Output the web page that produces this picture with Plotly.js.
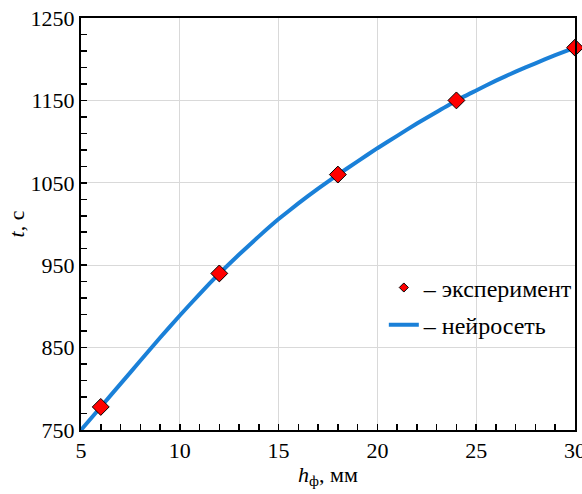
<!DOCTYPE html>
<html>
<head>
<meta charset="utf-8">
<script src="https://cdn.plot.ly/plotly-3.0.1.min.js"></script>
<style>
  html, body { margin: 0; padding: 0; background: #fff; }
  #chart { width: 582px; height: 494px; }
</style>
</head>
<body>
<div id="chart"></div>
<script>
// Measured filling times (experiment)
const expX = [6, 12, 18, 24, 30];
const expY = [778, 940, 1060, 1150, 1214];

// Neural-network prediction curve
const netX = [5, 6, 7, 8, 9, 10, 11, 12, 13, 14, 15, 16, 17, 18, 19, 20, 21, 22, 23, 24, 25, 26, 27, 28, 29, 30];
const netY = [750, 778, 806, 834, 862, 889, 915, 940, 963, 985, 1006, 1025, 1043, 1060, 1076, 1092, 1107, 1122, 1136, 1150, 1162, 1174, 1185, 1195, 1205, 1214];

const xTicks = [5, 10, 15, 20, 25, 30];
const yTicks = [750, 850, 950, 1050, 1150, 1250];

const seriesNames = ['– эксперимент', '– нейросеть'];

const font = 'Times New Roman';
const blue = '#1a80d8';

const traces = [
  {
    x: netX, y: netY, mode: 'lines', type: 'scatter',
    line: { color: blue, width: 4, shape: 'spline', smoothing: 0.3 },
    showlegend: false, hoverinfo: 'skip'
  },
  {
    x: expX, y: expY, mode: 'markers', type: 'scatter',
    marker: { symbol: 'diamond', size: 13, color: '#ff0000', line: { color: '#000', width: 1 } },
    cliponaxis: false, showlegend: false
  },
  // legend entries
  {
    x: [null], y: [null], mode: 'markers', type: 'scatter', name: seriesNames[0],
    marker: { symbol: 'diamond', size: 7, color: '#ff0000', line: { color: '#000', width: 1 } },
    legendgroup: 'a'
  },
  {
    x: [null], y: [null], mode: 'lines', type: 'scatter', name: seriesNames[1],
    line: { color: blue, width: 4 },
    legendgroup: 'b'
  }
];

const layout = {
  width: 582, height: 494,
  margin: { l: 81, r: 7, t: 18, b: 64, autoexpand: false },
  paper_bgcolor: '#fff', plot_bgcolor: '#fff',
  font: { family: font, size: 22, color: '#000' },
  showlegend: true,
  legend: {
    x: 0.613, y: 0.30, xanchor: 'left', yanchor: 'middle',
    bgcolor: 'rgba(255,255,255,0)', borderwidth: 0,
    font: { family: font, size: 24 },
    traceorder: 'grouped', tracegroupgap: 3
  },
  xaxis: {
    range: [5, 30.001], tickmode: 'array', tickvals: xTicks,
    ticklabeloverflow: 'allow', automargin: false,
    showline: true, linecolor: '#000', linewidth: 2, mirror: true,
    ticks: 'inside', ticklen: 6, tickwidth: 1.5, tickcolor: '#000',
    showgrid: true, gridcolor: '#d9d9d9', gridwidth: 1,
    zeroline: false,
    tickfont: { family: font, size: 22 },
    minor: { dtick: 1, tick0: 5, ticks: 'inside', ticklen: 6, tickwidth: 1.5, tickcolor: '#000', showgrid: false },
    title: { text: '<i>h</i><sub>ф</sub>, мм', font: { family: font, size: 22 }, standoff: 4 }
  },
  yaxis: {
    range: [750, 1250.01], tickmode: 'array', tickvals: yTicks,
    automargin: false,
    showline: true, linecolor: '#000', linewidth: 2, mirror: true,
    ticks: 'inside', ticklen: 6, tickwidth: 1.5, tickcolor: '#000',
    showgrid: true, gridcolor: '#d9d9d9', gridwidth: 1,
    zeroline: false,
    tickfont: { family: font, size: 22 },
    minor: { dtick: 20, tick0: 750, ticks: 'inside', ticklen: 6, tickwidth: 1.5, tickcolor: '#000', showgrid: false },
    title: { text: '<i>t</i>, с', font: { family: font, size: 22 }, standoff: 0 }
  }
};

Plotly.newPlot('chart', traces, layout, { displayModeBar: false, staticPlot: true });
</script>
</body>
</html>
